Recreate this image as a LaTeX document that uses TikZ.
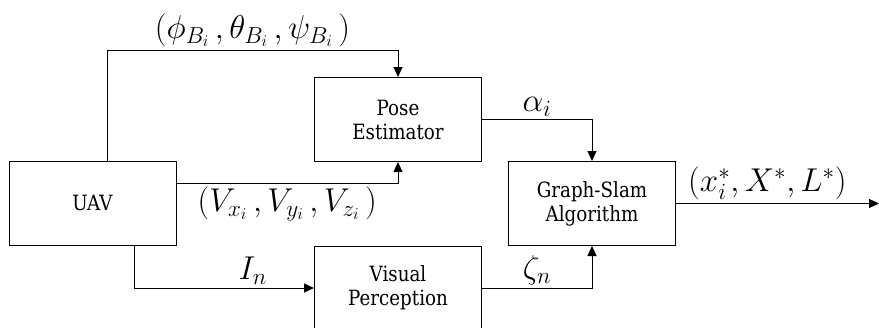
\RequirePackage{fix-cm}
\documentclass[tikz,border=0pt]{standalone}
\usepackage{fontspec}
\usepackage{graphicx}
\newcommand{\bt}[1]{{\fontspec{DejaVu Serif}\fontsize{21}{24}\selectfont\scalebox{0.87}[1]{#1}}}
\usetikzlibrary{arrows.meta}
\begin{document}
\begin{tikzpicture}[x=1pt,y=-1pt,
  blk/.style={draw, line width=1pt, minimum width=167pt, minimum height=84pt, inner sep=0pt, align=center, font=\fontsize{21}{24}\selectfont},
  arr/.style={draw, line width=1pt, -{Triangle[length=10pt,width=9pt]}},
  lab/.style={font=\fontsize{33}{36}\selectfont, inner sep=3pt}]
\useasboundingbox (0,0) rectangle (879,327);
\node[blk] (uav) at (92.5,203) {\bt{UAV}};
\node[blk] (pose) at (398,119.5) {\bt{Pose}\\\bt{Estimator}};
\node[blk] (graph) at (592,203.5) {\bt{Graph-Slam}\\\bt{Algorithm}};
\node[blk] (vis) at (398,288) {\bt{Visual}\\\bt{Perception}};
\coordinate (c1) at (107,50);
\coordinate (c2) at (0,183);
\coordinate (c3) at (134,0);
\coordinate (out) at (879,203.5);
\draw[arr] (uav.north -| c1) |- node[lab, pos=0.75, above]{$(\phi_{B_i}\,,\theta_{B_i}\,,\psi_{B_i}\,)$} (pose.north |- c1) -- (pose.north);
\draw[arr] (uav.east |- c2) -| node[lab, pos=0.25, below]{$(V_{x_i}\,,V_{y_i}\,,V_{z_i}\,)$} (pose.south);
\draw[arr] (uav.south -| c3) |- node[lab, pos=0.83, above]{$I_n$} (vis.west);
\draw[arr] (pose.east) -| node[lab, pos=0.25, above]{$\alpha_i$} (graph.north);
\draw[arr] (vis.east) -| node[lab, pos=0.25, above]{$\zeta_n$} (graph.south);
\draw[arr] (graph.east) -- node[lab, pos=0.45, above]{$(x_i^*,X^*,L^*)$} (out);
\end{tikzpicture}
\end{document}
